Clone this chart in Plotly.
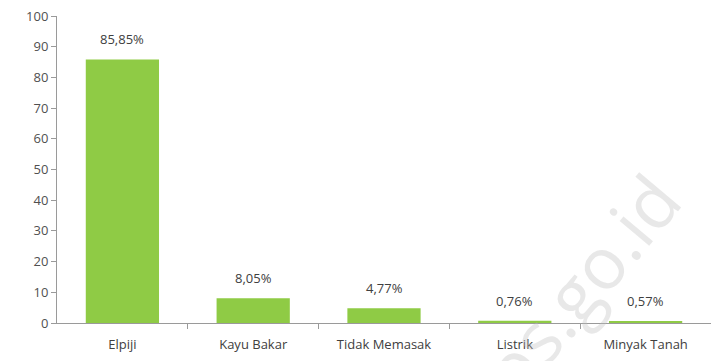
import plotly.graph_objects as go

# Bahan bakar utama untuk memasak (persen rumah tangga)
categories = ["Elpiji", "Kayu Bakar", "Tidak Memasak", "Listrik", "Minyak Tanah"]
values = [85.85, 8.05, 4.77, 0.76, 0.57]
value_labels = ["85,85%", "8,05%", "4,77%", "0,76%", "0,57%"]
y_ticks = [0, 10, 20, 30, 40, 50, 60, 70, 80, 90, 100]

x_pos = list(range(len(categories)))

fig = go.Figure()
fig.add_trace(go.Bar(
    x=x_pos,
    y=values,
    width=0.56,
    marker=dict(color="#8fcb45", line=dict(width=0)),
))

# Value labels above each bar
for xi, v, lab in zip(x_pos, values, value_labels):
    fig.add_annotation(
        x=xi, y=v, text=lab, showarrow=False, yanchor="bottom", yshift=9,
        font=dict(family="Open Sans, sans-serif", size=13, color="#404040"),
    )

# Faint site watermark
fig.add_annotation(
    x=0.777, y=0.07, xref="paper", yref="paper",
    text="bps.go.id", showarrow=False, textangle=-50,
    xanchor="center", yanchor="middle",
    font=dict(family="Open Sans, sans-serif", size=72, color="rgba(190,190,190,0.35)"),
)

fig.update_layout(
    width=711, height=361,
    margin=dict(l=57, r=0, t=16, b=38),
    paper_bgcolor="white", plot_bgcolor="white",
    showlegend=False,
    bargap=0.44,
    font=dict(family="Open Sans, sans-serif", size=12, color="#404040"),
)
fig.update_xaxes(
    range=[-0.5, len(categories) - 0.5],
    tickmode="array",
    tickvals=x_pos,
    ticktext=categories,
    showline=True, linecolor="#9a9a9a", linewidth=1,
    ticks="", showgrid=False, zeroline=False,
    ticklabelstandoff=9,
    tickfont=dict(size=13, color="#404040"),
    minor=dict(tickmode="array", tickvals=[i + 0.5 for i in range(len(categories) - 1)],
               ticks="outside", ticklen=5, tickcolor="#9a9a9a", showgrid=False),
)
fig.update_yaxes(
    range=[0, 100],
    tickmode="array", tickvals=y_ticks,
    showline=True, linecolor="#9a9a9a", linewidth=1,
    ticks="outside", ticklen=5, tickcolor="#9a9a9a",
    showgrid=False, zeroline=False,
    tickfont=dict(size=13, color="#505050"),
)

fig.write_html("out.html")
